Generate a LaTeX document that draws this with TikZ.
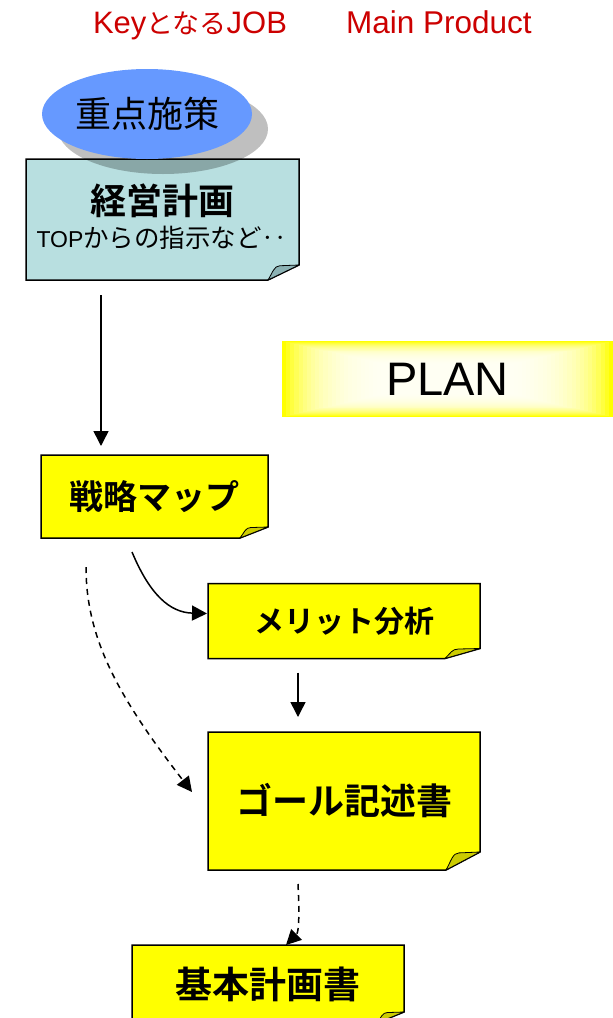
\documentclass[tikz,border=0pt]{standalone}
\usepackage{fontspec}
\setmainfont{Liberation Sans}
\newfontfamily\cjk{Noto Sans CJK JP}
\newfontfamily\cjkb{Noto Sans CJK JP Bold}
\usetikzlibrary{arrows.meta,calc,backgrounds,shapes.geometric}
\definecolor{titlered}{RGB}{204,0,0}
\definecolor{notebg}{RGB}{184,223,224}
\definecolor{tealfold}{RGB}{140,178,180}
\definecolor{yel}{RGB}{255,255,0}
\definecolor{foldyel}{RGB}{204,204,0}
\definecolor{ellblue}{RGB}{102,153,255}
\newcommand\notebox[5]{% name, fill, fold fill, dx, dy
  \path[fill=#2,draw=black,line width=1.5pt,line join=miter]
    (#1.north west) -- (#1.north east) -- ($(#1.south east)+(0,-#5)$)
    -- ($(#1.south east)+(-#4,0)$) -- (#1.south west) -- cycle;
  \path[fill=#3,draw=black,line width=0.8pt,line join=round]
    ($(#1.south east)+(-#4,0)$)
    .. controls ($(#1.south east)+(-0.85*#4,-0.5*#5)$) and ($(#1.south east)+(-0.8*#4,-0.95*#5)$)
    .. ($(#1.south east)+(-0.62*#4,-0.95*#5)$) -- ($(#1.south east)+(0,-#5)$) -- cycle;
}
\begin{document}
\begin{tikzpicture}[x=1pt,y=-1pt,
  boxnode/.style={rectangle,inner sep=0pt,outer sep=0pt},
  boxtext/.style={font=\cjkb\fontsize{#1}{#1}\selectfont},
  arr/.style={line width=1.5pt,-{Triangle[length=15pt,width=15pt]}},
  darr/.style={arr,dash pattern=on 6pt off 5pt}]
\useasboundingbox (0,0) rectangle (613,1018);
% title
\node[anchor=base,text=titlered,font=\fontsize{31}{34}\selectfont] (t1) at (190,33) {Key{\cjk\fontsize{27}{30}\selectfont となる}JOB};
\node[anchor=base,text=titlered,font=\fontsize{31.5}{34}\selectfont] (t2) at (439,33) {Main Product};
% boxes
\node[boxnode,minimum width=273,minimum height=121] (keiei) at (162.5,219.5) {};
\node[boxtext=36] (keieiT) at (162,201) {経営計画};
\node[font=\fontsize{23}{26}\selectfont] (keieiS) at (162,238) {TOP{\cjk\fontsize{25.5}{28}\selectfont からの指示など‥}};
\node[ellipse,fill=ellblue,minimum width=210,minimum height=90,inner sep=0pt,
      font=\cjk\fontsize{36}{40}\selectfont] (juten) at (147,114) {重点施策};
\node[boxnode,minimum width=331,minimum height=76,font=\fontsize{47}{50}\selectfont] (plan) at (447.5,379) {PLAN};
\node[boxnode,minimum width=227,minimum height=83,boxtext=34] (senryaku) at (154.5,496.5) {戦略マップ};
\node[boxnode,minimum width=272,minimum height=75,boxtext=30] (meritto) at (344,621) {メリット分析};
\node[boxnode,minimum width=272,minimum height=138,boxtext=36] (goal) at (344,801) {ゴール記述書};
\node[boxnode,minimum width=272,minimum height=78,boxtext=37] (kihon) at (268,984) {基本計画書};
% backgrounds
\begin{pgfonlayer}{background}
  \fill[white] (0,0) rectangle (613,1018);
  \notebox{keiei}{notebg}{tealfold}{31}{15}
  \fill[black,opacity=0.25] ($(juten.center)+(16,15)$) ellipse [x radius=105, y radius=45];
  \fill[yel] (plan.north west) rectangle (plan.south east);
  \foreach \i in {1,...,24}
    \fill[white,fill opacity=0.135] ($(plan.north west)+(4.14*\i,0.95*\i)$) rectangle ($(plan.south east)+(-4.14*\i,-0.95*\i)$);
  \notebox{senryaku}{yel}{foldyel}{28}{11}
  \notebox{meritto}{yel}{foldyel}{35}{10}
  \notebox{goal}{yel}{foldyel}{34}{18}
  \notebox{kihon}{yel}{foldyel}{27}{11}
\end{pgfonlayer}
% connectors
\draw[arr] ($(keiei.south west)+(75,15)$) -- ($(senryaku.north west)+(60,-9)$);
\draw[arr] ($(senryaku.south west)+(91,14)$)
   .. controls ($(senryaku.south west)+(109,57)$) and ($(meritto.north west)+(-38,29)$)
   .. ($(meritto.north west)+(-1,30)$);
\draw[darr] ($(senryaku.south west)+(45,29)$)
   .. controls ($(senryaku.south west)+(45,102)$) and ($(goal.north west)+(-88,-33)$)
   .. ($(goal.north west)+(-16,60)$);
\draw[arr] ($(meritto.south west)+(90,14)$) -- ($(goal.north west)+(90,-15)$);
\draw[darr] ($(goal.south west)+(90,14)$)
   .. controls ($(goal.south west)+(92,54)$) and ($(kihon.north west)+(166,-12)$)
   .. ($(kihon.north west)+(154,0)$);
\end{tikzpicture}
\end{document}
